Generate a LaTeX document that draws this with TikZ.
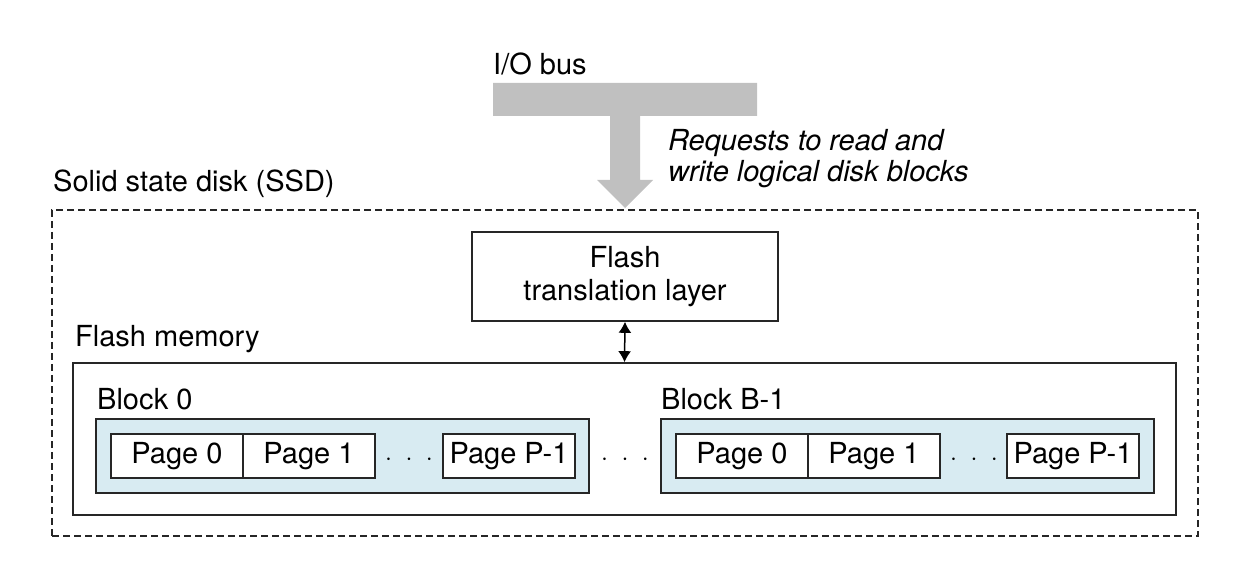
\documentclass[tikz,border=0pt]{standalone}
\usepackage{fontspec}
\setmainfont{TeX Gyre Heros}
\usetikzlibrary{arrows.meta}
\definecolor{busgray}{RGB}{192,192,192}
\definecolor{blockblue}{RGB}{216,235,242}
\begin{document}
\begin{tikzpicture}[x=1pt,y=-1pt,
  font=\fontsize{29}{32}\selectfont,
  box/.style={draw=black!85,line width=1.6pt,inner sep=0pt,rectangle},
  blockbox/.style={box,fill=blockblue,minimum width=493pt,minimum height=74pt},
  pagebox/.style={box,fill=white,minimum width=132pt,minimum height=44pt},
  lbl/.style={anchor=base west,inner sep=0pt},
  dots/.style={inner sep=0pt}]
\useasboundingbox (0,0) rectangle (1255,569);
% bus
\fill[busgray] (493,83) -- (757,83) -- (757,116) -- (640,116) -- (640,180) -- (653,180)
  -- (625,208) -- (597,180) -- (610,180) -- (610,116) -- (493,116) -- cycle;
\node[lbl] (iobus) at (493,75) {I/O bus};
\node[lbl,font=\fontsize{29}{32}\selectfont\itshape] (req1) at (668,151) {Requests to read and};
\node[lbl,font=\fontsize{29}{32}\selectfont\itshape] (req2) at (668,182) {write logical disk blocks};
% SSD
\node[draw=black!85,dashed,dash pattern=on 7pt off 4pt,line width=1.4pt,minimum width=1146pt,minimum height=326pt,inner sep=0pt] (ssd) at (625,373) {};
\node[lbl] (ssdl) at (53,192) {Solid state disk (SSD)};
% FTL
\node[box,minimum width=306pt,minimum height=89pt] (ftl) at (625,276.5) {};
\node[lbl,anchor=base] (ftl1) at (625,268) {Flash};
\node[lbl,anchor=base] (ftl2) at (625,300) {translation layer};
% flash memory
\node[box,minimum width=1103pt,minimum height=152pt] (mem) at (624.5,439) {};
\node[lbl] (meml) at (75,346) {Flash memory};
\draw[line width=1.5pt,{Latex[length=11pt,width=13pt]}-{Latex[length=11pt,width=13pt]}] (ftl.south) -- (mem.north);
% blocks
\node[blockbox] (blk0) at (342.5,456) {};
\node[lbl] (blk0l) at (97,409) {Block 0};
\node[blockbox] (blkB) at (907.5,456) {};
\node[lbl] (blkBl) at (661,409) {Block B-1};
% pages block 0
\node[pagebox] (p00) at (177,456) {Page 0};
\node[pagebox] (p01) at (309,456) {Page 1};
\node[dots] (d0) at (409,460) {$\cdot\hspace{8pt}\cdot\hspace{8pt}\cdot$};
\node[pagebox] (p0P) at (509,456) {Page P-1};
% between blocks
\node[dots] (dm) at (625,460) {$\cdot\hspace{8pt}\cdot\hspace{8pt}\cdot$};
% pages block B-1
\node[pagebox] (pB0) at (742,456) {Page 0};
\node[pagebox] (pB1) at (874,456) {Page 1};
\node[dots] (dB) at (974,460) {$\cdot\hspace{8pt}\cdot\hspace{8pt}\cdot$};
\node[pagebox] (pBP) at (1073,456) {Page P-1};
\end{tikzpicture}
\end{document}
